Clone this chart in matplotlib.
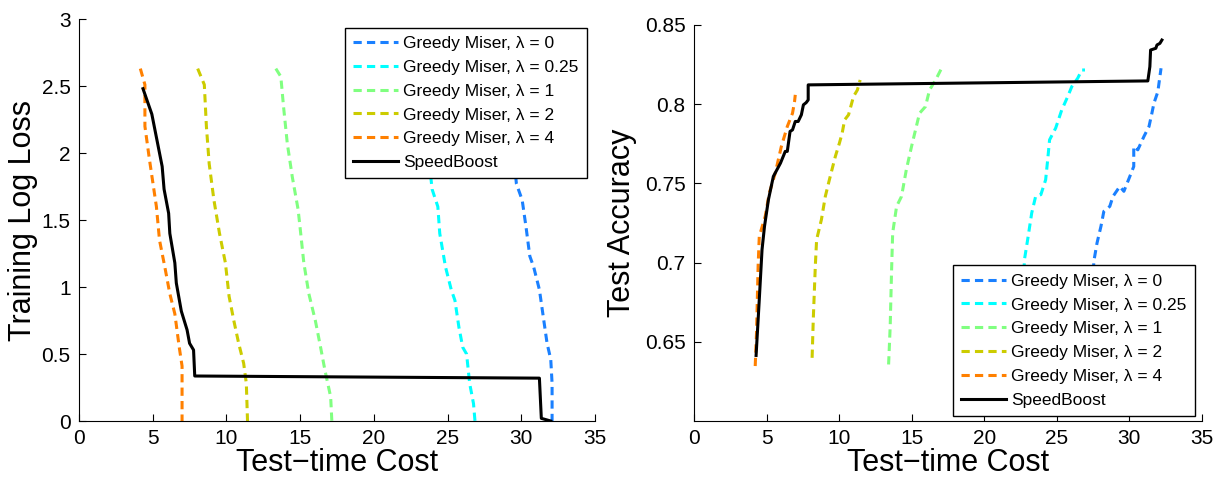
import matplotlib
matplotlib.use("Agg")
from matplotlib import pyplot as plt

plt.rcParams.update({
    "font.family": ["Liberation Sans", "DejaVu Sans"],
    "font.size": 14,
})

labels = ["Greedy Miser, λ = 0", "Greedy Miser, λ = 0.25", "Greedy Miser, λ = 1",
          "Greedy Miser, λ = 2", "Greedy Miser, λ = 4", "SpeedBoost"]
colors = ["#1a80ff", "#00ffff", "#80ff80", "#cccc00", "#ff8000", "black"]

# left panel: training log loss vs cost
loss_x = [
    [29.0, 29.3, 29.67, 30.06, 30.32, 30.58, 30.84, 31.23, 31.49, 31.75, 32.0, 32.09, 32.09],
    [23.2, 23.5, 23.95, 24.34, 24.47, 24.86, 25.25, 25.5, 25.77, 26.03, 26.29, 26.5, 26.76, 26.86],
    [13.35, 13.69, 13.87, 14.13, 14.47, 14.86, 14.99, 15.25, 15.59, 16.03, 16.37, 16.68, 17.07, 17.15],
    [8.05, 8.5, 8.64, 8.83, 9.15, 9.53, 9.93, 10.18, 10.5, 10.83, 11.17, 11.35, 11.43],
    [4.16, 4.47, 4.47, 4.78, 5.25, 5.46, 5.82, 6.16, 6.5, 6.8, 6.99, 6.99],
    [4.34, 4.94, 5.64, 5.77, 6.08, 6.16, 6.5, 6.6, 6.94, 7.33, 7.5, 7.77, 7.85, 31.23, 31.36, 32.0],
]
loss_y = [
    [2.63, 2.2, 1.77, 1.65, 1.45, 1.23, 1.15, 0.98, 0.78, 0.58, 0.46, 0.28, 0.0],
    [2.63, 2.2, 1.73, 1.6, 1.4, 1.15, 0.98, 0.9, 0.7, 0.55, 0.5, 0.28, 0.13, 0.0],
    [2.63, 2.57, 2.35, 2.07, 1.82, 1.58, 1.45, 1.18, 0.95, 0.75, 0.56, 0.38, 0.18, 0.0],
    [2.63, 2.51, 2.2, 1.92, 1.65, 1.4, 1.18, 0.93, 0.75, 0.58, 0.43, 0.28, 0.0],
    [2.63, 2.51, 2.2, 1.95, 1.6, 1.35, 1.15, 0.95, 0.8, 0.55, 0.41, 0.0],
    [2.48, 2.29, 1.9, 1.73, 1.55, 1.4, 1.18, 1.03, 0.82, 0.68, 0.58, 0.53, 0.336, 0.32, 0.02, 0.0],
]

# right panel: test accuracy vs cost
acc_x = [
    [27.2, 27.4, 27.55, 27.77, 28.04, 28.24, 28.65, 28.87, 29.34, 29.62, 30.03, 30.3, 30.3, 30.58,
     31.0, 31.35, 31.55, 31.69, 31.96, 32.1, 32.18],
    [22.4, 22.6, 22.77, 22.99, 23.27, 23.54, 23.9, 24.23, 24.37, 24.5, 24.92, 25.34, 25.75, 26.03,
     26.44, 26.72, 26.94],
    [13.41, 13.52, 13.61, 13.69, 13.96, 14.3, 14.63, 14.99, 15.32, 15.54, 15.95, 16.23, 16.65, 17.06],
    [8.14, 8.22, 8.36, 8.45, 8.78, 9.05, 9.33, 9.74, 10.02, 10.21, 10.38, 10.65, 10.99, 11.26, 11.45],
    [4.22, 4.31, 4.42, 4.5, 4.91, 5.19, 5.6, 6.02, 6.43, 6.79, 6.93, 6.98],
    [4.28, 4.5, 4.69, 4.86, 5.13, 5.47, 5.96, 6.29, 6.43, 6.62, 6.79, 6.98, 7.18, 7.4, 7.54, 7.73,
     7.87, 7.87, 31.27, 31.41, 31.46, 31.82, 31.9, 32.1, 32.24],
]
acc_y = [
    [0.635, 0.67, 0.7008, 0.7124, 0.7229, 0.7324, 0.7355, 0.7418, 0.7481, 0.745, 0.7544, 0.7607,
     0.7733, 0.7712, 0.7796, 0.7859, 0.7943, 0.8006, 0.8079, 0.8174, 0.8227],
    [0.635, 0.67, 0.7019, 0.7145, 0.7313, 0.7418, 0.7429, 0.7523, 0.7649, 0.7775, 0.7849, 0.7964,
     0.8048, 0.8111, 0.8164, 0.8216, 0.8216],
    [0.6357, 0.6599, 0.6935, 0.7187, 0.7355, 0.7418, 0.7586, 0.7733, 0.7859, 0.7943, 0.7985, 0.809,
     0.8153, 0.8227],
    [0.6399, 0.6641, 0.6977, 0.7145, 0.7271, 0.7418, 0.7523, 0.767, 0.7754, 0.7817, 0.7901, 0.7933,
     0.8048, 0.809, 0.8153],
    [0.6347, 0.6557, 0.6977, 0.7166, 0.7292, 0.7439, 0.7565, 0.7733, 0.7859, 0.7943, 0.8017, 0.8059],
    [0.6414, 0.6767, 0.7082, 0.7229, 0.7397, 0.7544, 0.7628, 0.7702, 0.7702, 0.7828, 0.7838, 0.7891,
     0.7891, 0.7933, 0.7996, 0.801, 0.8027, 0.8122, 0.8147, 0.8237, 0.8342, 0.8353, 0.8374, 0.8384,
     0.8405],
]

fig = plt.figure(figsize=(12.25, 4.78), dpi=100)
ax1 = fig.add_axes([0.0645, 0.1192, 0.4212, 0.8410])
ax2 = fig.add_axes([0.5665, 0.1192, 0.4147, 0.8285])


def draw(ax, xs, ys):
    for i in range(len(labels)):
        if i < 5:
            ax.plot(xs[i], ys[i], color=colors[i], lw=2.2, linestyle=(0, (2.7, 1.7)), label=labels[i])
        else:
            ax.plot(xs[i], ys[i], color=colors[i], lw=2.2, label=labels[i])
    for s in ["top", "right"]:
        ax.spines[s].set_visible(False)
    ax.tick_params(direction="in", length=5, labelsize=15, pad=6)
    ax.set_xlim(0, 35)
    ax.set_xticks(range(0, 36, 5))
    ax.set_xlabel("Test\u2212time Cost", fontsize=22, labelpad=0)


def add_legend(ax, loc, anchor):
    leg = ax.legend(loc=loc, bbox_to_anchor=anchor, fontsize=12.5, handlelength=2.6,
                    frameon=True, fancybox=False, edgecolor="black", framealpha=1,
                    borderpad=0.47, labelspacing=0.5, handletextpad=0.29, borderaxespad=0)
    leg.get_frame().set_linewidth(1)


draw(ax1, loss_x, loss_y)
ax1.set_ylim(0, 3)
ax1.set_yticks([0, 0.5, 1, 1.5, 2, 2.5, 3])
ax1.set_yticklabels(["0", "0.5", "1", "1.5", "2", "2.5", "3"])
ax1.set_ylabel("Training Log Loss", fontsize=22)
ax1.yaxis.set_label_coords(-0.08, 0.5)
add_legend(ax1, "upper right", (0.9837, 0.9784))

draw(ax2, acc_x, acc_y)
ax2.set_ylim(0.6, 0.85)
ax2.set_yticks([0.65, 0.7, 0.75, 0.8, 0.85])
ax2.set_yticklabels(["0.65", "0.7", "0.75", "0.8", "0.85"])
ax2.set_ylabel("Test Accuracy", fontsize=22)
ax2.yaxis.set_label_coords(-0.112, 0.5)
add_legend(ax2, "lower right", (0.9862, 0.0126))

fig.savefig("out.png", dpi=100)
